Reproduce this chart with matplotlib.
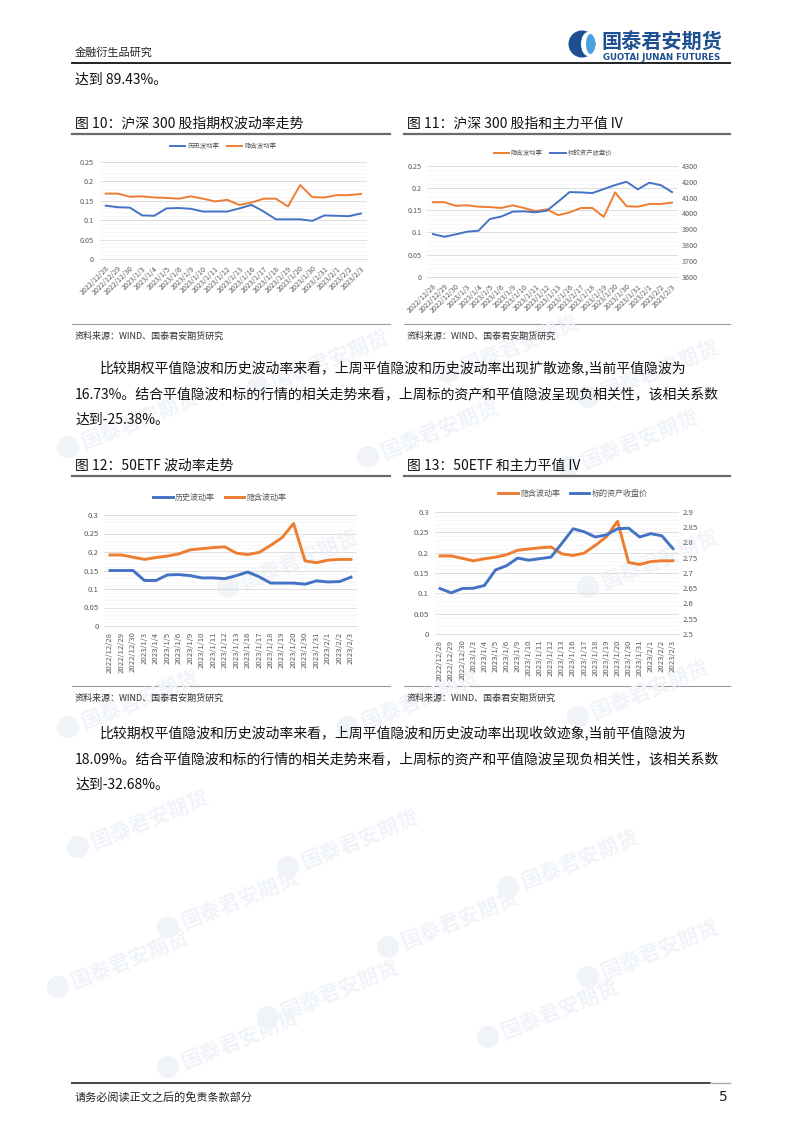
import matplotlib

matplotlib.use("Agg")
import matplotlib.pyplot as plt
import numpy as np
from matplotlib.patches import Circle, Ellipse
from matplotlib.ticker import MultipleLocator, FuncFormatter

plt.rcParams["font.family"] = ["Noto Sans CJK SC", "DejaVu Sans"]
plt.rcParams["axes.unicode_minus"] = False

# ---- data ----
DATES = [
    "2022/12/28", "2022/12/29", "2022/12/30", "2023/1/3", "2023/1/4", "2023/1/5",
    "2023/1/6", "2023/1/9", "2023/1/10", "2023/1/11", "2023/1/12", "2023/1/13",
    "2023/1/16", "2023/1/17", "2023/1/18", "2023/1/19", "2023/1/20", "2023/1/30",
    "2023/1/31", "2023/2/1", "2023/2/2", "2023/2/3",
]

# CSI 300 options
HS300_HIST_VOL = [0.137, 0.133, 0.132, 0.112, 0.111, 0.130, 0.131, 0.129, 0.122, 0.122, 0.122,
                  0.130, 0.139, 0.122, 0.102, 0.102, 0.102, 0.098, 0.112, 0.111, 0.110, 0.117]
HS300_IMPL_VOL = [0.168, 0.168, 0.160, 0.161, 0.158, 0.157, 0.155, 0.161, 0.155, 0.148, 0.152,
                  0.139, 0.145, 0.155, 0.155, 0.135, 0.190, 0.159, 0.158, 0.164, 0.164, 0.167]
HS300_CLOSE = [3870, 3853, 3868, 3885, 3891, 3965, 3980, 4011, 4013, 4007, 4017,
               4074, 4134, 4132, 4128, 4153, 4178, 4199, 4151, 4193, 4178, 4134]

# 50ETF options
ETF50_HIST_VOL = [0.150, 0.150, 0.150, 0.123, 0.123, 0.138, 0.139, 0.136, 0.130, 0.130, 0.128,
                  0.136, 0.146, 0.133, 0.116, 0.116, 0.116, 0.113, 0.122, 0.119, 0.120, 0.132]
ETF50_IMPL_VOL = [0.192, 0.192, 0.186, 0.180, 0.185, 0.189, 0.195, 0.206, 0.209, 0.212, 0.214,
                  0.197, 0.193, 0.199, 0.218, 0.239, 0.277, 0.176, 0.171, 0.178, 0.180, 0.180]
ETF50_CLOSE = [2.649, 2.635, 2.649, 2.650, 2.659, 2.710, 2.724, 2.749, 2.742, 2.747, 2.752,
               2.798, 2.845, 2.835, 2.818, 2.825, 2.845, 2.847, 2.818, 2.829, 2.822, 2.780]

LABEL_HIST = "历史波动率"
LABEL_IMPL = "隐含波动率"
LABEL_CLOSE = "标的资产收盘价"

BLUE = "#4472c4"
ORANGE = "#ed7d31"
TICK_COLOR = "#595959"
SOURCE = "资料来源：WIND、国泰君安期货研究"

PARA1 = [
    "比较期权平值隐波和历史波动率来看，上周平值隐波和历史波动率出现扩散迹象,当前平值隐波为",
    "16.73%。结合平值隐波和标的行情的相关走势来看，上周标的资产和平值隐波呈现负相关性，该相关系数",
    "达到-25.38%。",
]
PARA2 = [
    "比较期权平值隐波和历史波动率来看，上周平值隐波和历史波动率出现收敛迹象,当前平值隐波为",
    "18.09%。结合平值隐波和标的行情的相关走势来看，上周标的资产和平值隐波呈现负相关性，该相关系数",
    "达到-32.68%。",
]

W, H = 802, 1134
fig = plt.figure(figsize=(W / 100, H / 100), dpi=100)
fig.patch.set_facecolor("white")

# background layer in pixel coordinates
bg = fig.add_axes([0, 0, 1, 1], zorder=-5)
bg.set_xlim(0, W)
bg.set_ylim(H, 0)
bg.axis("off")


def px_axes(x0, y0, x1, y1):
    return fig.add_axes([x0 / W, 1 - y1 / H, (x1 - x0) / W, (y1 - y0) / H])


# faint watermarks
for wx, wy in [(330, 360), (520, 345), (660, 370), (140, 420), (440, 430), (640, 440),
               (300, 560), (660, 560), (140, 700), (420, 700), (650, 690),
               (150, 820), (360, 840), (580, 860), (240, 900), (460, 920),
               (660, 950), (130, 960), (340, 990), (560, 1010), (240, 1040)]:
    bg.text(wx, wy, "国泰君安期货", fontsize=15, color="#f0f4f9", rotation=22,
            ha="center", va="center", fontweight="bold")
    bg.add_patch(Circle((wx - 72, wy + 27), 11, color="#f0f4f9", lw=0))

# header
bg.text(75, 52, "金融衍生品研究", fontsize=8, color="#222222", va="center")
bg.add_patch(Circle((582, 44), 13.5, color="#1d4f91", lw=0))
bg.add_patch(Ellipse((588, 44), 14, 24, color="white", lw=0))
bg.add_patch(Ellipse((590.5, 44), 9, 20, color="#4aa3df", lw=0))
bg.text(601, 41, "国泰君安期货", fontsize=14.5, color="#1d4f91", va="center", fontweight="bold")
bg.text(603, 57, "GUOTAI JUNAN FUTURES", fontsize=6.2, color="#1d4f91", va="center",
        family="DejaVu Sans", fontweight="bold")
bg.plot([72, 730], [63, 63], color="#222222", lw=1.4)
bg.text(75, 80, "达到 89.43%。", fontsize=10, color="#111111", va="center")


def section_frame(y_title, y_bottom, titles):
    for x0, x1, title in [(72, 390, titles[0]), (404, 730, titles[1])]:
        bg.text(x0 + 3, y_title, title, fontsize=10, color="#111111", va="center")
        bg.plot([x0, x1], [y_title + 10, y_title + 10], color="#6b6b6b", lw=1.6)
        bg.plot([x0, x1], [y_bottom, y_bottom], color="#9a9a9a", lw=0.8)
        bg.text(x0 + 3, y_bottom + 12, SOURCE, fontsize=6.5, color="#333333", va="center")


def paragraph(y0, lines):
    for i, line in enumerate(lines):
        bg.text(100 if i == 0 else 75, y0 + i * 26, line, fontsize=10, color="#111111",
                va="center")


def style_axis(ax, ymax, ystep, fontsize, rotation):
    x = np.arange(len(DATES))
    ax.set_facecolor("none")
    ax.set_xlim(-0.5, len(DATES) - 0.5)
    ax.set_ylim(0, ymax)
    ax.yaxis.set_major_locator(MultipleLocator(ystep))
    ax.yaxis.set_minor_locator(MultipleLocator(0.01))
    ax.yaxis.set_major_formatter(FuncFormatter(lambda v, p: f"{v:g}"))
    ax.grid(True, axis="y", which="major", color="#d9d9d9", lw=0.6)
    ax.grid(True, axis="y", which="minor", color="#f1f1f1", lw=0.4)
    ax.set_axisbelow(True)
    ax.set_xticks(x)
    ax.set_xticklabels(DATES, rotation=rotation, fontsize=fontsize, color=TICK_COLOR,
                       ha="right" if rotation == 45 else "center",
                       rotation_mode="anchor" if rotation == 45 else "default")
    ax.tick_params(axis="both", length=0, labelsize=fontsize, labelcolor=TICK_COLOR, pad=4)
    ax.tick_params(axis="y", which="minor", length=0)
    for side in ["top", "right", "left"]:
        ax.spines[side].set_visible(False)
    ax.spines["bottom"].set_color("#d9d9d9")
    ax.spines["bottom"].set_linewidth(0.6)
    return x


def right_axis(ax, lo, hi, step, fontsize):
    ax2 = ax.twinx()
    ax2.set_ylim(lo, hi)
    ax2.yaxis.set_major_locator(MultipleLocator(step))
    ax2.yaxis.set_major_formatter(FuncFormatter(lambda v, p: f"{v:g}"))
    ax2.tick_params(axis="y", length=0, labelsize=fontsize, labelcolor=TICK_COLOR, pad=3)
    for side in ["top", "right", "left", "bottom"]:
        ax2.spines[side].set_visible(False)
    return ax2


def legend(handles, labels, cx, cy, fontsize):
    fig.legend(handles, labels, loc="center", bbox_to_anchor=(cx / W, 1 - cy / H),
               ncol=2, frameon=False, fontsize=fontsize, handlelength=2.4,
               columnspacing=1.2, handletextpad=0.3, labelcolor=TICK_COLOR)


# ---- charts 10 / 11 ----
section_frame(124, 324, ["图 10：沪深 300 股指期权波动率走势", "图 11：沪深 300 股指和主力平值 IV"])

ax1 = px_axes(99.6, 161.7, 367, 259)
x = style_axis(ax1, 0.25, 0.05, 5.2, 45)
h1, = ax1.plot(x, HS300_HIST_VOL, color=BLUE, lw=1.4)
h2, = ax1.plot(x, HS300_IMPL_VOL, color=ORANGE, lw=1.4)
legend([h1, h2], [LABEL_HIST, LABEL_IMPL], 223, 146, 4.6)

ax2 = px_axes(427.3, 165.7, 677.7, 277)
x = style_axis(ax2, 0.25, 0.05, 5.2, 45)
h3, = ax2.plot(x, HS300_IMPL_VOL, color=ORANGE, lw=1.4)
ax2r = right_axis(ax2, 3600, 4300, 100, 5.2)
h4, = ax2r.plot(x, HS300_CLOSE, color=BLUE, lw=1.4)
legend([h3, h4], [LABEL_IMPL, LABEL_CLOSE], 553, 153, 4.6)

paragraph(368, PARA1)

# ---- charts 12 / 13 ----
section_frame(466, 686, ["图 12：50ETF 波动率走势", "图 13：50ETF 和主力平值 IV"])

ax3 = px_axes(104.3, 515, 356.7, 626)
x = style_axis(ax3, 0.3, 0.05, 5.6, 90)
h5, = ax3.plot(x, ETF50_HIST_VOL, color=BLUE, lw=2.1)
h6, = ax3.plot(x, ETF50_IMPL_VOL, color=ORANGE, lw=2.1)
legend([h5, h6], [LABEL_HIST, LABEL_IMPL], 220, 497, 5.8)

ax4 = px_axes(434.5, 512, 678.5, 634)
x = style_axis(ax4, 0.3, 0.05, 5.6, 90)
h7, = ax4.plot(x, ETF50_IMPL_VOL, color=ORANGE, lw=2.1)
ax4r = right_axis(ax4, 2.5, 2.9, 0.05, 5.6)
h8, = ax4r.plot(x, ETF50_CLOSE, color=BLUE, lw=2.1)
legend([h7, h8], [LABEL_IMPL, LABEL_CLOSE], 573, 493, 5.8)

paragraph(733, PARA2)

# ---- footer ----
bg.plot([72, 710], [1083, 1083], color="#444444", lw=1.4)
bg.plot([710, 730], [1083, 1083], color="#aaaaaa", lw=1.0)
bg.text(75, 1097, "请务必阅读正文之后的免责条款部分", fontsize=8, color="#222222", va="center")
bg.text(728, 1097, "5", fontsize=10, color="#222222", va="center", ha="right",
        family="DejaVu Sans")

fig.savefig("out.png", dpi=100, facecolor="white")
